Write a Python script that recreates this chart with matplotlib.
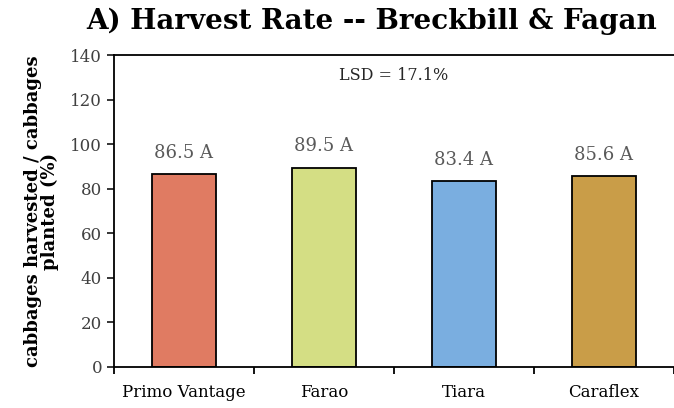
import matplotlib
matplotlib.use('Agg')
import matplotlib.pyplot as plt
import numpy as np

# data
varieties = ['Primo Vantage', 'Farao', 'Tiara', 'Caraflex']
harvest_rate = [86.5, 89.5, 83.4, 85.6]
letters = ['A', 'A', 'A', 'A']
bar_colors = ['#E07B62', '#D4DE84', '#7AAEE0', '#C99D48']
lsd_text = 'LSD = 17.1%'

plt.rcParams['font.family'] = ['DejaVu Serif']

fig = plt.figure(figsize=(6.74, 4.08), dpi=100)
ax = fig.add_axes([0.169, 0.1005, 0.831, 0.7645])

x = np.arange(len(varieties))
ax.bar(x, harvest_rate, width=0.46, color=bar_colors, edgecolor='black', linewidth=1.3, zorder=2)

for xi, val, let in zip(x, harvest_rate, letters):
    ax.annotate(f'{val:.1f} {let}', (xi, val), xytext=(0, 9), textcoords='offset points',
                ha='center', va='bottom', fontsize=13, color='#595959')

ax.text(0.5, 0.935, lsd_text, transform=ax.transAxes, ha='center', va='center',
        fontsize=11.5, color='#262626')

ax.set_xlim(-0.5, len(varieties) - 0.5)
ax.set_ylim(0, 140)
ax.set_yticks(range(0, 141, 20))
ax.set_xticks(x)
ax.set_xticklabels(varieties, fontsize=12)
ax.set_xticks(np.arange(-0.5, len(varieties), 1.0), minor=True)
ax.tick_params(axis='x', which='major', length=0, pad=12)
ax.tick_params(axis='x', which='minor', length=5, width=1.3, direction='out')
ax.tick_params(axis='y', length=5, width=1.3, direction='out', labelsize=12, colors='#262626')
ax.tick_params(axis='y', labelcolor='#404040')

for side in ['left', 'bottom', 'top']:
    ax.spines[side].set_linewidth(1.3)
ax.spines['right'].set_visible(False)

ax.set_ylabel('cabbages harvested / cabbages\nplanted (%)', fontsize=13, fontweight='bold',
              linespacing=0.95, labelpad=8)

fig.text(0.552, 0.948, 'A) Harvest Rate -- Breckbill & Fagan', ha='center', va='center',
         fontsize=20, fontweight='bold')

fig.savefig('out.png', dpi=100)
